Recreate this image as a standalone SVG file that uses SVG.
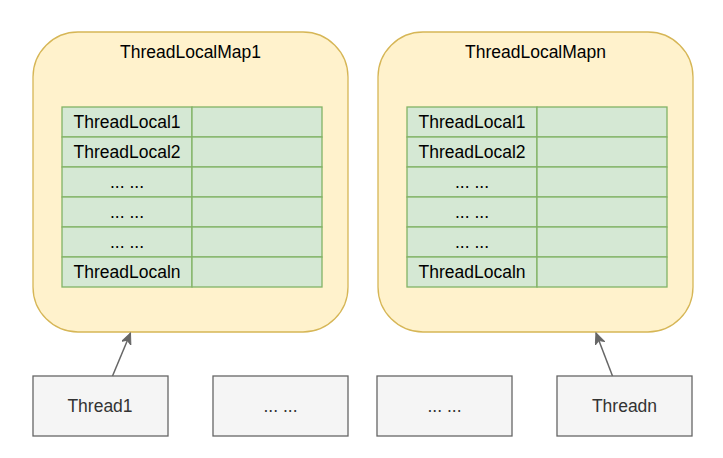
<svg xmlns="http://www.w3.org/2000/svg" width="723" height="458" viewBox="0 0 723 458">
<style>
.map{fill:#fff2cc;stroke:#d6b656;stroke-width:1.3}
.cell{fill:#d5e8d4;stroke:#82b366;stroke-width:1.3}
.thr{fill:#f5f5f5;stroke:#666666;stroke-width:1.3}
text{font-family:"Liberation Sans",Arial,sans-serif;font-size:17.5px;text-anchor:middle;fill:#000}
.tt{fill:#333333}
.edge{stroke:#666666;stroke-width:1.5;fill:none}
</style>
<defs>
<marker id="arr" markerUnits="userSpaceOnUse" markerWidth="14" markerHeight="12" refX="11" refY="5" orient="auto">
<path d="M0,0 L11,5 L0,10 L3,5 Z" fill="#666666" stroke="#666666" stroke-width="1"/>
</marker>
</defs>
<g id="map1">
<rect class="map" x="33" y="32" width="315" height="300" rx="45" ry="45"/>
<text x="190.5" y="58">ThreadLocalMap1</text>
<g id="table1">
<rect class="cell" x="62" y="107" width="130" height="30"/><rect class="cell" x="192" y="107" width="130" height="30"/>
<rect class="cell" x="62" y="137" width="130" height="30"/><rect class="cell" x="192" y="137" width="130" height="30"/>
<rect class="cell" x="62" y="167" width="130" height="30"/><rect class="cell" x="192" y="167" width="130" height="30"/>
<rect class="cell" x="62" y="197" width="130" height="30"/><rect class="cell" x="192" y="197" width="130" height="30"/>
<rect class="cell" x="62" y="227" width="130" height="30"/><rect class="cell" x="192" y="227" width="130" height="30"/>
<rect class="cell" x="62" y="257" width="130" height="30"/><rect class="cell" x="192" y="257" width="130" height="30"/>
<text x="127" y="128">ThreadLocal1</text>
<text x="127" y="158">ThreadLocal2</text>
<text x="127" y="188">... ...</text>
<text x="127" y="218">... ...</text>
<text x="127" y="248">... ...</text>
<text x="127" y="278">ThreadLocaln</text>
</g>
</g>
<g id="mapn">
<rect class="map" x="378" y="32" width="315" height="300" rx="45" ry="45"/>
<text x="535.5" y="58">ThreadLocalMapn</text>
<g id="tablen">
<rect class="cell" x="407" y="107" width="130" height="30"/><rect class="cell" x="537" y="107" width="130" height="30"/>
<rect class="cell" x="407" y="137" width="130" height="30"/><rect class="cell" x="537" y="137" width="130" height="30"/>
<rect class="cell" x="407" y="167" width="130" height="30"/><rect class="cell" x="537" y="167" width="130" height="30"/>
<rect class="cell" x="407" y="197" width="130" height="30"/><rect class="cell" x="537" y="197" width="130" height="30"/>
<rect class="cell" x="407" y="227" width="130" height="30"/><rect class="cell" x="537" y="227" width="130" height="30"/>
<rect class="cell" x="407" y="257" width="130" height="30"/><rect class="cell" x="537" y="257" width="130" height="30"/>
<text x="472" y="128">ThreadLocal1</text>
<text x="472" y="158">ThreadLocal2</text>
<text x="472" y="188">... ...</text>
<text x="472" y="218">... ...</text>
<text x="472" y="248">... ...</text>
<text x="472" y="278">ThreadLocaln</text>
</g>
</g>
<g id="thread1">
<rect class="thr" x="33" y="376" width="135" height="60"/>
<text class="tt" x="100" y="412">Thread1</text>
</g>
<g id="threadDots1">
<rect class="thr" x="213" y="376" width="135" height="60"/>
<text class="tt" x="280.5" y="412">... ...</text>
</g>
<g id="threadDots2">
<rect class="thr" x="377" y="376" width="135" height="60"/>
<text class="tt" x="444.5" y="412">... ...</text>
</g>
<g id="threadn">
<rect class="thr" x="557" y="376" width="135" height="60"/>
<text class="tt" x="624.5" y="412">Threadn</text>
</g>
<g id="connectors">
<path class="edge" d="M112.5,376 L130.5,333" marker-end="url(#arr)"/>
<path class="edge" d="M612.5,376 L596,333" marker-end="url(#arr)"/>
</g>
</svg>
